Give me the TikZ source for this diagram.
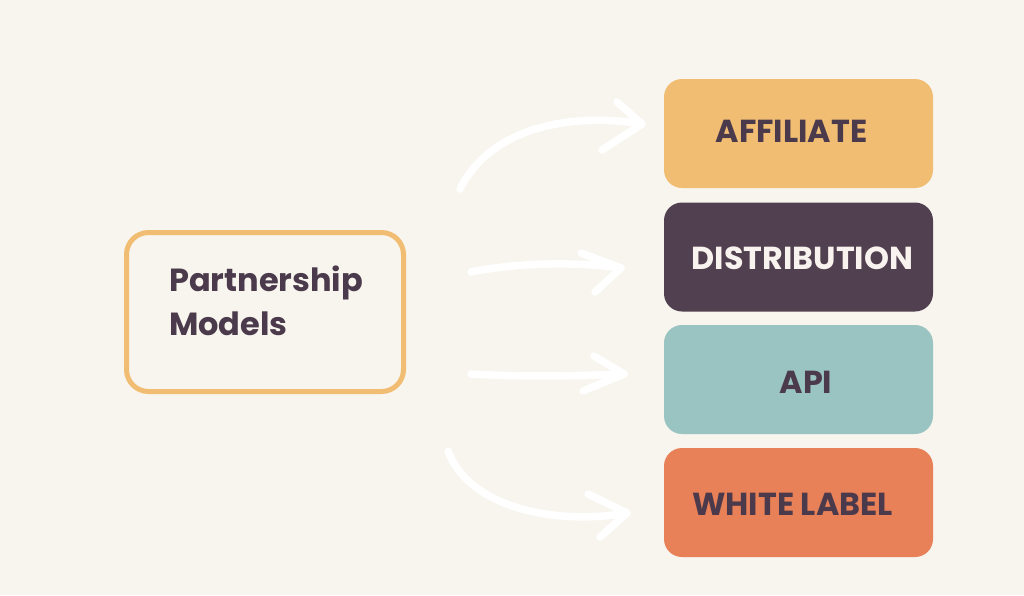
\documentclass[tikz,border=0pt]{standalone}
\usepackage{fontspec}
\setmainfont{Poppins}
\begin{document}
\definecolor{bg}{HTML}{F7F5EE}
\definecolor{plum}{HTML}{4B3A4B}
\definecolor{gold}{HTML}{F1BD72}
\definecolor{grape}{HTML}{51404F}
\definecolor{teal}{HTML}{9AC4C1}
\definecolor{coral}{HTML}{E88058}
\definecolor{cream}{HTML}{F8F3EE}
\begin{tikzpicture}[x=1pt,y=-1pt,
  catbox/.style={rounded corners=18pt, minimum width=269pt, minimum height=109pt, inner sep=0pt},
  cattext/.style={font=\fontsize{31.8}{31.8}\selectfont\bfseries, inner sep=0pt, anchor=center},
  arr/.style={draw=white, line width=7.5pt, line cap=round, line join=round}]
\fill[bg] (0,0) rectangle (1024,595);
\useasboundingbox (0,0) rectangle (1024,595);
% left box
\node[draw=gold, line width=5pt, rounded corners=22pt, minimum width=277pt, minimum height=159pt, inner sep=0pt] (pm) at (265,312) {};
\node[font=\fontsize{32}{44}\selectfont\bfseries, text=plum, align=left, inner sep=0pt, anchor=base west] (pmt) at (169,335) {Partnership\\Models};
% right boxes
\node[catbox, fill=gold] (aff) at (798.5,133.5) {};
\node[catbox, fill=grape] (dis) at (798.5,257) {};
\node[catbox, fill=teal] (api) at (798.5,379.5) {};
\node[catbox, fill=coral] (wl) at (798.5,502.5) {};
\node[cattext, text=plum] (afft) at (791.5,131) {AFFILIATE};
\node[cattext, text=cream] (dist) at (802.5,258) {DISTRIBUTION};
\node[cattext, text=plum] (apit) at (806,382) {API};
\node[cattext, text=plum] (wlt) at (792.5,504) {WHITE LABEL};
% arrows
\coordinate (s1) at (460,189); \coordinate (t1) at (642,124);
\coordinate (s2) at (471,272); \coordinate (t2) at (621,268);
\coordinate (s3) at (471,374); \coordinate (t3) at (624,374);
\coordinate (s4) at (448,451); \coordinate (t4) at (627,513);
\draw[arr] (s1) .. controls (490,128) and (570,112) .. (t1);
\draw[arr] (617,102) -- (t1) -- (602,150);
\draw[arr] (s2) .. controls (520,262) and (580,262) .. (t2);
\draw[arr] (581,253) -- (t2) -- (595,292);
\draw[arr] (s3) .. controls (520,377) and (580,376) .. (t3);
\draw[arr] (594,356) -- (t3) -- (583,391);
\draw[arr] (s4) .. controls (470,510) and (560,525) .. (t4);
\draw[arr] (588,494) -- (t4) -- (600,537);
\end{tikzpicture}
\end{document}
